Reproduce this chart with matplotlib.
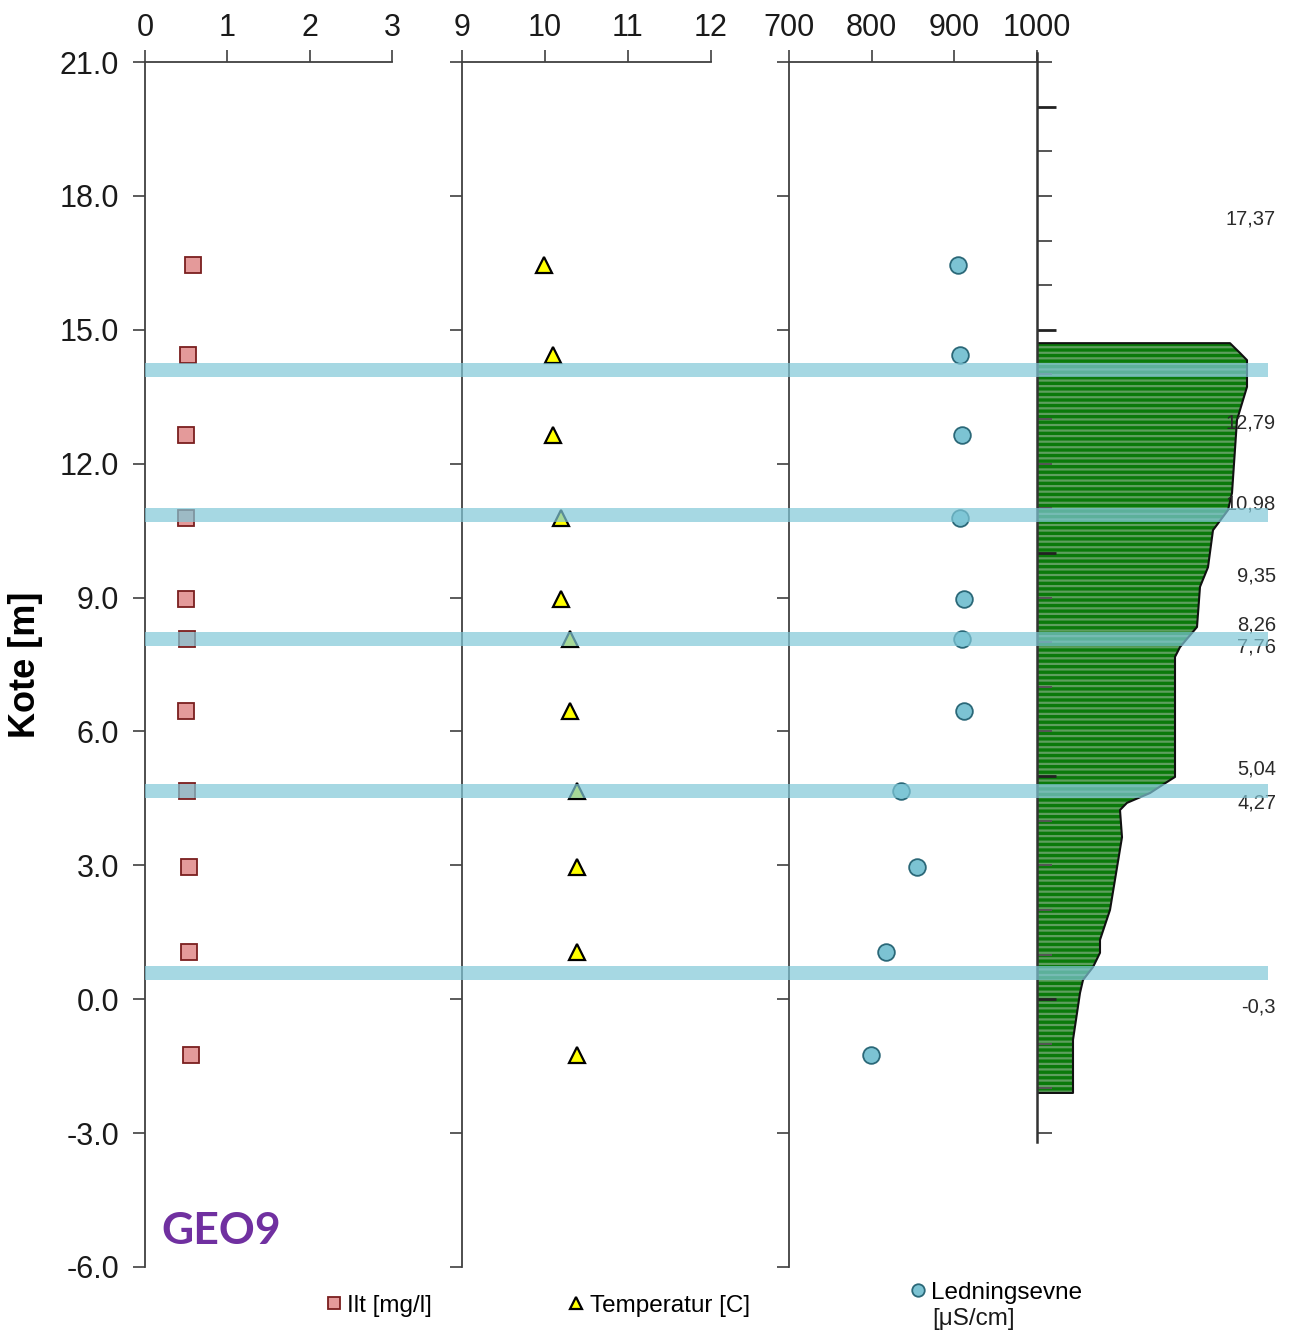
import numpy as np
import matplotlib
matplotlib.use("Agg")
import matplotlib.pyplot as plt

plt.rcParams['font.family'] = ['Liberation Sans', 'DejaVu Sans']
plt.rcParams['axes.unicode_minus'] = False

# målinger i brønnen (kote i m)
kote = [16.45, 14.43, 12.64, 10.78, 8.97, 8.07, 6.46, 4.67, 2.96, 1.06, -1.25]
ilt = [0.58, 0.52, 0.50, 0.50, 0.50, 0.51, 0.50, 0.51, 0.53, 0.53, 0.56]
temperatur = [9.99, 10.10, 10.10, 10.19, 10.19, 10.30, 10.30, 10.39, 10.39, 10.39, 10.39]
ledningsevne = [904, 907, 909, 907, 912, 909, 912, 835, 855, 817, 799]

# sonderingsprofil (grønn)
profil_kote = [14.70, 14.48, 14.32, 13.72, 12.98, 11.34, 10.96, 10.51, 9.68, 9.24, 8.34,
               7.89, 7.67, 4.98, 4.91, 4.62, 4.40, 4.24, 3.63, 2.00, 1.33, 1.04, 0.72,
               0.43, 0.14, -0.91, -2.10]
profil_verdi = [193, 203, 210, 210, 200, 195, 191, 176, 171, 163, 160,
                143, 138, 138, 133, 113, 90, 83, 85, 73, 63, 63, 56,
                46, 43, 36, 36]

lag_kote = [17.37, 12.79, 10.98, 9.35, 8.26, 7.76, 5.04, 4.27, -0.3]
lag_tekst = ['17,37', '12,79', '10,98', '9,35', '8,26', '7,76', '5,04', '4,27', '-0,3']

# filterhøyder (blå bånd)
filter_kote = [14.10, 10.85, 8.07, 4.67, 0.59]

W, H = 1291, 1336
fig = plt.figure(figsize=(W / 100, H / 100), dpi=100)


def boks(venstre, hoyre):
    return [venstre / W, 1 - 1267 / H, (hoyre - venstre) / W, (1267 - 62) / H]


akse_farge = '#404040'
yticks = np.arange(-6, 21.1, 3)


def sett_opp(ax, xlim, xticks, ylabels):
    ax.set_xlim(*xlim)
    ax.set_ylim(-6, 21)
    ax.set_xticks(xticks)
    ax.set_yticks(yticks)
    ax.xaxis.tick_top()
    for s in ['right', 'bottom']:
        ax.spines[s].set_visible(False)
    for s in ['left', 'top']:
        ax.spines[s].set_color(akse_farge)
        ax.spines[s].set_linewidth(1.3)
    ax.tick_params(direction='out', length=8.5, width=1.2, color=akse_farge,
                   labelsize=22, pad=10, labelcolor='#1a1a1a')
    ax.tick_params(axis='x', pad=5)
    if ylabels:
        ax.set_yticklabels([f"{v:.1f}" for v in yticks])
    else:
        ax.set_yticklabels([])
    ax.patch.set_alpha(0)


ax1 = fig.add_axes(boks(145, 392))
sett_opp(ax1, (0, 3), [0, 1, 2, 3], True)
ax1.set_ylabel('Kote [m]', fontsize=26, fontweight='bold', labelpad=12)
l1, = ax1.plot(ilt, kote, 's', ms=11, mfc='#e49a9a', mec='#7a1f1f', mew=1.3,
               ls='none', label='Ilt [mg/l]')
ax1.text(0.2, -5.2, 'GEO9', fontsize=32, fontweight='bold', color='#7030a0',
         family=['Lato', 'DejaVu Sans'], va='center')

ax2 = fig.add_axes(boks(462, 711))
sett_opp(ax2, (9, 12), [9, 10, 11, 12], False)
l2, = ax2.plot(temperatur, kote, '^', ms=11, mfc='#ffff00', mec='#000000', mew=1.6,
               ls='none', label='Temperatur [C]')

ax3 = fig.add_axes(boks(789, 1037))
sett_opp(ax3, (700, 1000), [700, 800, 900, 1000], False)
l3, = ax3.plot(ledningsevne, kote, 'o', ms=12, mfc='#7cc3d3', mec='#2b6878', mew=1.3,
               ls='none', label='Ledningsevne')

legende_font = {'family': ['Liberation Sans Narrow', 'Liberation Sans'], 'size': 17.5}
for ax, linje, x0, y0 in [(ax1, l1, 0.735, -0.032), (ax2, l2, 0.43, -0.032),
                          (ax3, l3, 0.49, -0.0215)]:
    ax.legend(handles=[linje], loc='center left', bbox_to_anchor=(x0, y0),
              frameon=False, handlelength=0.6, handletextpad=0.25, borderpad=0,
              borderaxespad=0, markerscale=0.75, prop=legende_font)
ax3.text(0.577, -0.0435, '[μS/cm]', transform=ax3.transAxes, ha='left', va='center',
         fontsize=17.5, color='#1a1a1a')

# grønn sonderingsprofil
ax4 = fig.add_axes(boks(1037, 1287))
ax4.set_xlim(0, 250)
ax4.set_ylim(-6, 21)
ax4.patch.set_alpha(0)
for s in ['right', 'bottom', 'top']:
    ax4.spines[s].set_visible(False)
ax4.spines['left'].set_bounds(-3.2, 21.2)
ax4.spines['left'].set_color('#333333')
ax4.spines['left'].set_linewidth(1.8)
ax4.set_xticks([])
ax4.set_yticks(np.arange(0, 21, 5))
ax4.set_yticks(np.arange(-3, 22, 1), minor=True)
ax4.tick_params(axis='y', which='major', direction='in', length=14, width=2,
                color='#222222', labelleft=False)
ax4.tick_params(axis='y', which='minor', direction='in', length=11, width=1.4,
                color='#555555')
plt.rcParams['hatch.linewidth'] = 1.6
ax4.fill_betweenx(profil_kote, 0, profil_verdi, facecolor='#0a7a0a',
                  edgecolor='#5e9f5e', hatch='---', linewidth=0, zorder=1)
ax4.fill_betweenx(profil_kote, 0, profil_verdi, facecolor='none',
                  edgecolor='#111111', linewidth=1.5, zorder=2)
for k, t in zip(lag_kote, lag_tekst):
    ax4.text(239, k, t, ha='right', va='baseline', fontsize=14.5, color='#2a2a2a',
             family=['Liberation Sans Narrow', 'Liberation Sans'])

# blå bånd over alle paneler
axb = fig.add_axes(boks(145, 1268))
axb.set_xlim(0, 1)
axb.set_ylim(-6, 21)
axb.axis('off')
for k in filter_kote:
    axb.axhspan(k - 0.16, k + 0.16, color='#80c8d8', alpha=0.7, lw=0)

fig.savefig('out.png', dpi=100)
